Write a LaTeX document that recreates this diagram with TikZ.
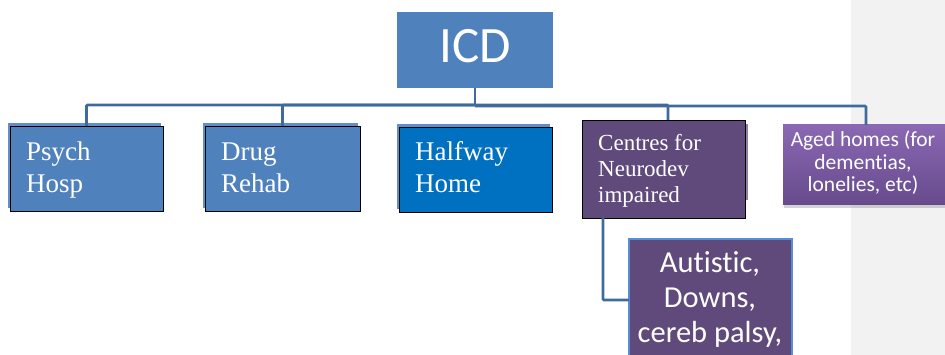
\documentclass[tikz,border=0pt]{standalone}
\usepackage{fontspec}
\setmainfont{Liberation Serif}
\newfontfamily\calib[Ligatures=NoCommon]{Carlito}
\usetikzlibrary{shadows}
\definecolor{boxblue}{HTML}{4F81BD}
\definecolor{backblue}{HTML}{5F8FCB}
\definecolor{halfblue}{HTML}{0070C0}
\definecolor{neuro}{HTML}{604A7B}
\definecolor{agedtop}{HTML}{8A68B3}
\definecolor{agedbot}{HTML}{674A8C}
\definecolor{linkblue}{HTML}{3E6A9E}
\definecolor{edgeblue}{HTML}{558ED5}
\definecolor{panel}{HTML}{F2F2F2}
\tikzset{
  plainbox/.style={rectangle, inner sep=0pt, outer sep=0pt, anchor=north west},
  childbox/.style={plainbox, draw=black, line width=0.9pt},
  % multi-line labels are placed by the baseline of their last line
  serifline/.style={text=white, inner sep=0pt, anchor=base west, align=left,
    font=\fontsize{27}{32}\selectfont},
  sansline/.style={text=white, inner sep=0pt, anchor=base, align=center},
  link/.style={draw=linkblue, line width=2.8pt}
}
\begin{document}
\begin{tikzpicture}[x=1pt, y=-1pt]
\useasboundingbox (0,0) rectangle (945,355);
% grey side panel
\fill[panel] (851,0) rectangle (945,355);

% root
\node[plainbox, fill=boxblue, minimum width=156pt, minimum height=76pt] (icd) at (397,12) {};
\node[sansline, font=\calib\fontsize{51}{51}\selectfont] (icdt) at (475,63) {ICD};

% back plates of the first-level boxes
\fill[backblue] (8,123) rectangle (161,208);
\fill[backblue] (203,123) rectangle (358,208);
\fill[backblue] (397,124) rectangle (550,209);
\fill[neuro!70!white] (600,124) rectangle (748,200);

% first-level boxes
\node[childbox, fill=boxblue, minimum width=153pt, minimum height=85pt] (psych) at (10,126) {};
\node[childbox, fill=boxblue, minimum width=155pt, minimum height=85pt] (drug) at (205,126) {};
\node[childbox, fill=halfblue, minimum width=153pt, minimum height=85pt] (half) at (399,127) {};
\node[childbox, fill=neuro, minimum width=163pt, minimum height=98pt] (neuro) at (582,120) {};
\node[plainbox, top color=agedtop, bottom color=agedbot,
      drop shadow={shadow xshift=1pt, shadow yshift=-3pt, opacity=0.35},
      minimum width=162pt, minimum height=80pt] (aged) at (783,125) {};

% second-level box
\node[plainbox, fill=neuro, draw=edgeblue, line width=2.6pt,
      minimum width=163pt, minimum height=122pt] (autism) at (629,239) {};

% connectors
\coordinate (bar) at (475,105);
\draw[link] (icd.south) -- (bar);
\draw[link, rounded corners=1pt] (bar) -| (psych.north);
\draw[link, rounded corners=1pt] (bar) -| (drug.north);
\draw[link, rounded corners=1pt] (bar) -| ([xshift=4.5pt]neuro.north);
\draw[link, rounded corners=1pt] ([yshift=-1pt]bar) -| ([xshift=2pt]aged.north);
\coordinate (drop) at ([xshift=21pt]neuro.south west);
\draw[link, rounded corners=1pt] (drop) |- (autism.west);

% labels
\node[serifline] at (26,193) {Psych\\Hosp};
\node[serifline] at (221,193) {Drug\\Rehab};
\node[serifline] at (415,193) {Halfway\\Home};
\node[serifline, font=\fontsize{23}{26}\selectfont] at (598,203) {Centres for\\Neurodev\\impaired};
\node[sansline, font=\calib\fontsize{21.5}{22.5}\selectfont] at (863,192) {Aged homes (for\\dementias,\\lonelies, etc)};
\node[sansline, font=\calib\fontsize{30.5}{35}\selectfont] at (710,342) {Autistic,\\Downs,\\cereb palsy,};
\end{tikzpicture}
\end{document}
